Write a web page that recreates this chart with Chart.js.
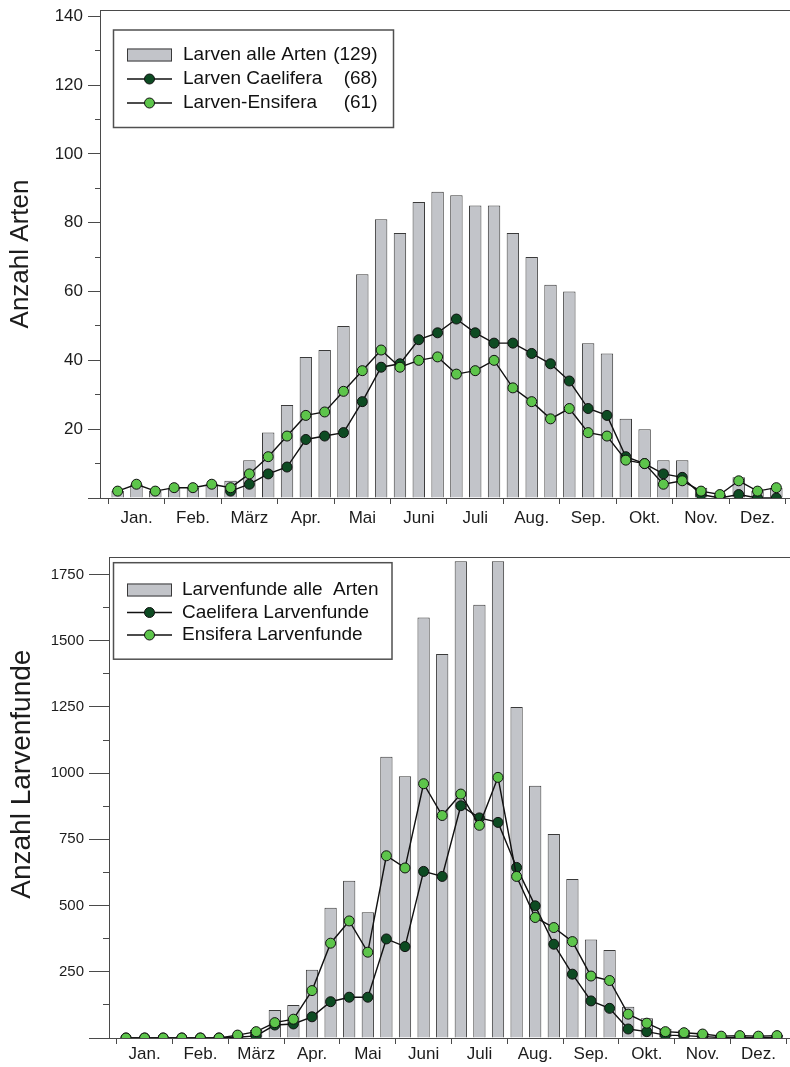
<!DOCTYPE html>
<html lang="de">
<head>
<meta charset="UTF-8">
<title>Larven - Phänologie</title>
<script src="https://cdn.jsdelivr.net/npm/chart.js"></script>
<style>
  body { margin: 0; background: #fff; width: 790px; height: 1067px; overflow: hidden; position: relative; }
  .panel { position: absolute; left: 0; }
  #oben { top: 0; }
  #unten { top: 540px; }
</style>
</head>
<body>
<div class="panel" id="oben"><canvas id="artenChart" width="800" height="540"></canvas></div>
<div class="panel" id="unten"><canvas id="fundeChart" width="800" height="527"></canvas></div>

<script>
// Monate (x-Achse), je 3 Dekaden pro Monat -> 36 Werte
const monate = ['Jan.', 'Feb.', 'März', 'Apr.', 'Mai', 'Juni', 'Juli', 'Aug.', 'Sep.', 'Okt.', 'Nov.', 'Dez.'];

// Diagramm 1: Anzahl Arten
const artenAlle = [2, 4, 2, 3, 3, 4, 5, 11, 19, 27, 41, 43, 50, 65, 81, 77, 86, 89,
                   88, 85, 85, 77, 70, 62, 60, 45, 42, 23, 20, 11, 11, 3, 1, 6, 2, 3];
const artenCaelifera = [null, null, null, null, null, null, 2, 4, 7, 9, 17, 18, 19, 28, 38, 39, 46, 48,
                        52, 48, 45, 45, 42, 39, 34, 26, 24, 12, 10, 7, 6, 1, 0, 1, 0, 0];
const artenEnsifera = [2, 4, 2, 3, 3, 4, 3, 7, 12, 18, 24, 25, 31, 37, 43, 38, 40, 41,
                       36, 37, 40, 32, 28, 23, 26, 19, 18, 11, 10, 4, 5, 2, 1, 5, 2, 3];
const artenLabels = ['Larven alle Arten', 'Larven Caelifera', 'Larven-Ensifera'];
const artenZahlen = ['(129)', '(68)', '(61)'];

// Diagramm 2: Anzahl Larvenfunde
const fundeAlle = [null, null, null, null, null, null, 12, 30, 106, 125, 258, 492, 594, 475, 1062, 988, 1588, 1450,
                   1800, 1636, 1800, 1250, 952, 770, 600, 372, 332, 118, 75, 35, 29, 20, 9, 11, 9, 11];
const fundeCaelifera = [0, 0, 0, 0, 0, 0, 3, 8, 49, 53, 80, 137, 154, 154, 374, 345, 629, 610,
                        877, 831, 814, 644, 499, 354, 241, 140, 112, 34, 24, 11, 9, 5, 2, 2, 2, 2];
const fundeEnsifera = [0, 0, 0, 0, 0, 0, 11, 24, 58, 71, 179, 358, 442, 324, 688, 642, 960, 840,
                       921, 803, 984, 610, 455, 417, 364, 234, 217, 90, 56, 24, 20, 15, 7, 9, 7, 9];
const fundeLabels = ['Larvenfunde alle  Arten', 'Caelifera Larvenfunde', 'Ensifera Larvenfunde'];

const FONT = 'Arial, "Liberation Sans", Helvetica, sans-serif';
Chart.defaults.font.family = FONT;
Chart.defaults.color = '#1c1c1c';

const grau = '#c2c4c9';
const dunkelgruen = '#0d4b22';
const hellgruen = '#5dc54b';
const achse = '#4a4a4a';

// Dekade i liegt in der Mitte ihres Monatsdrittels
const xy = arr => arr.map((v, i) => ({ x: (i + 0.5) / 3, y: v }));

// Rahmen um den Plotbereich
const rahmen = {
  id: 'rahmen',
  beforeDatasetsDraw(chart) {
    const { ctx, chartArea: a } = chart;
    ctx.save();
    ctx.strokeStyle = achse;
    ctx.lineWidth = 1;
    ctx.strokeRect(Math.round(a.left) + 0.5, Math.round(a.top) + 0.5, Math.round(a.width), Math.round(a.height));
    ctx.restore();
  }
};

// Legende als Kasten im Diagramm
const kastenLegende = {
  id: 'kastenLegende',
  afterDatasetsDraw(chart, args, o) {
    const ctx = chart.ctx;
    const ds = chart.data.datasets;
    ctx.save();
    ctx.fillStyle = '#fff';
    ctx.fillRect(o.x, o.y, o.w, o.h);
    ctx.strokeStyle = '#505050';
    ctx.lineWidth = 1.5;
    ctx.strokeRect(o.x, o.y, o.w, o.h);
    ctx.font = o.size + 'px ' + FONT;
    ctx.textBaseline = 'middle';
    ds.forEach((d, r) => {
      const cy = o.y + o.first + r * o.step;
      const sx = o.x + o.swX;
      if (d.type === 'bar') {
        ctx.fillStyle = d.backgroundColor;
        ctx.fillRect(sx, cy - 6.5, o.swW, 13);
        ctx.strokeStyle = d.borderColor;
        ctx.lineWidth = 1;
        ctx.strokeRect(sx + 0.5, cy - 6, o.swW - 1, 12);
      } else {
        ctx.strokeStyle = d.borderColor;
        ctx.lineWidth = d.borderWidth;
        ctx.beginPath();
        ctx.moveTo(sx, cy);
        ctx.lineTo(sx + o.swW, cy);
        ctx.stroke();
        ctx.beginPath();
        ctx.arc(sx + o.swW / 2, cy, d.pointRadius, 0, Math.PI * 2);
        ctx.fillStyle = d.pointBackgroundColor;
        ctx.fill();
        ctx.lineWidth = 1;
        ctx.stroke();
      }
      ctx.fillStyle = '#111';
      ctx.textAlign = 'left';
      ctx.fillText(d.label, o.x + o.textX, cy);
      if (o.zahlen) {
        ctx.textAlign = 'right';
        ctx.fillText(o.zahlen[r], o.x + o.zahlX, cy);
      }
    });
    ctx.restore();
  }
};

function datensaetze(alle, cael, ens, labels) {
  return [
    { type: 'bar', label: labels[0], data: xy(alle), backgroundColor: grau, borderColor: '#3a3a3a',
      borderWidth: 1, barPercentage: 0.66, categoryPercentage: 1, order: 3 },
    { type: 'line', label: labels[1], data: xy(cael), borderColor: '#111', borderWidth: 1.4,
      pointRadius: 5, pointBackgroundColor: dunkelgruen, pointBorderColor: '#111', pointBorderWidth: 1,
      tension: 0, order: 2 },
    { type: 'line', label: labels[2], data: xy(ens), borderColor: '#111', borderWidth: 1.4,
      pointRadius: 5, pointBackgroundColor: hellgruen, pointBorderColor: '#111', pointBorderWidth: 1,
      tension: 0, order: 1 }
  ];
}

function optionen(c) {
  return {
    responsive: false,
    animation: false,
    events: [],
    devicePixelRatio: 1,
    layout: { padding: { top: c.padTop, right: 4, left: 0, bottom: 0 } },
    plugins: {
      legend: { display: false },
      tooltip: { enabled: false },
      kastenLegende: c.legende
    },
    scales: {
      x: {
        type: 'linear', min: c.xMin, max: c.xMax, offset: false,
        afterFit: s => { s.height = c.xHoehe; },
        border: { display: true, color: achse, width: 1 },
        grid: { drawOnChartArea: false, offset: false, tickLength: 6, tickColor: achse },
        ticks: {
          stepSize: 1, includeBounds: false, autoSkip: false, maxRotation: 0, minRotation: 0,
          padding: c.xPad, labelOffset: c.monatPx / 2, font: { size: 17 }, color: '#1c1c1c',
          callback: v => monate[v] || ''
        }
      },
      y: {
        min: 0, max: c.yMax,
        afterFit: s => { s.width = c.yBreite; s.paddingTop = 0; s.paddingBottom = 0; },
        border: { display: true, color: achse, width: 1 },
        grid: {
          drawOnChartArea: false, tickLength: c.tickLang, tickColor: achse,
          tickBorderDash: ctx => (ctx.tick && ctx.tick.value % c.haupt !== 0) ? [0, c.tickLang - c.tickKurz, c.tickKurz, 60] : []
        },
        ticks: {
          stepSize: c.haupt / 2, includeBounds: false, padding: 5, font: { size: c.yFont }, color: '#1c1c1c',
          callback: v => (v > 0 && v % c.haupt === 0) ? v : ''
        },
        title: { display: true, text: c.titel, font: { size: c.titelFont }, color: '#1c1c1c', padding: { top: c.titelPad } }
      }
    }
  };
}

new Chart(document.getElementById('artenChart'), {
  type: 'bar',
  data: { datasets: datensaetze(artenAlle, artenCaelifera, artenEnsifera, artenLabels) },
  options: optionen({
    padTop: 10, xHoehe: 42, xMin: -0.146, xMax: 12.146, xPad: 4, monatPx: 56.6,
    yMax: 141.8, yBreite: 100, haupt: 20, tickLang: 12, tickKurz: 5, yFont: 17,
    titel: 'Anzahl Arten', titelFont: 26, titelPad: 5,
    legende: { x: 113.5, y: 30, w: 280, h: 97.5, first: 25, step: 24, swX: 13.5, swW: 45,
               textX: 69.5, zahlX: 264, size: 19, zahlen: artenZahlen }
  }),
  plugins: [rahmen, kastenLegende]
});

new Chart(document.getElementById('fundeChart'), {
  type: 'bar',
  data: { datasets: datensaetze(fundeAlle, fundeCaelifera, fundeEnsifera, fundeLabels) },
  options: optionen({
    padTop: 17, xHoehe: 29, xMin: -0.138, xMax: 12.138, xPad: 0, monatPx: 55.9,
    yMax: 1816, yBreite: 109, haupt: 250, tickLang: 20, tickKurz: 6, yFont: 15,
    titel: '      Anzahl Larvenfunde', titelFont: 28, titelPad: 5,
    legende: { x: 113.5, y: 22.7, w: 278.5, h: 96.5, first: 27.3, step: 22.5, swX: 13.5, swW: 45,
               textX: 68.5, size: 19 }
  }),
  plugins: [rahmen, kastenLegende]
});
</script>
</body>
</html>
